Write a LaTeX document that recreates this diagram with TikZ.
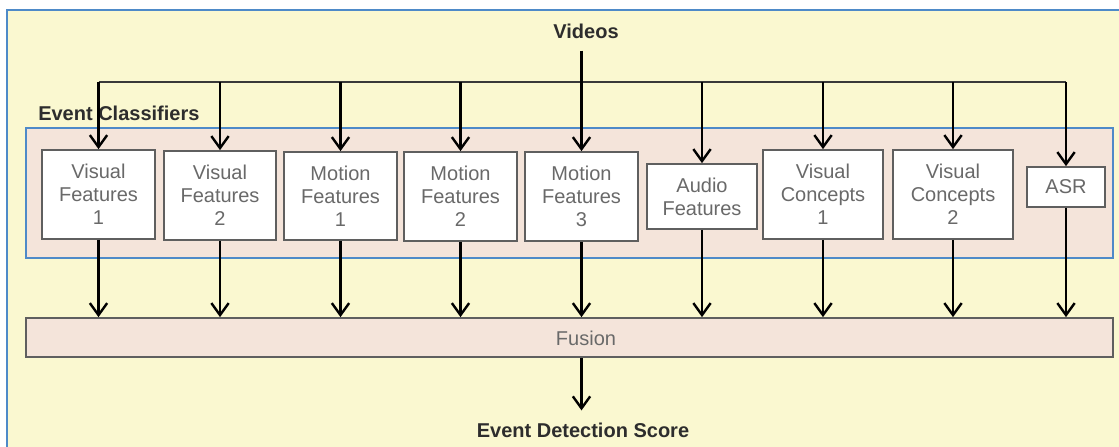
\documentclass[tikz,border=0pt]{standalone}
\usepackage{fontspec}
\setmainfont{Liberation Sans}
\usetikzlibrary{arrows.meta,shadows}

\definecolor{bgyellow}{RGB}{250,248,208}
\definecolor{bgpink}{RGB}{244,228,218}
\definecolor{frameblue}{RGB}{78,138,200}
\definecolor{boxgray}{RGB}{95,95,95}
\definecolor{txtgray}{RGB}{105,105,105}
\definecolor{lblgray}{RGB}{45,45,45}

\begin{document}
\begin{tikzpicture}[x=0.75pt,y=-0.75pt]
	\tikzstyle{plain} = [text=txtgray, align=center, font=\fontsize{15}{17.3}\selectfont, inner sep=0]
	\tikzstyle{feat} = [plain, draw=boxgray, fill=white, line width=1.3pt,
		drop shadow={opacity=0.25, shadow xshift=1pt, shadow yshift=-1pt}]
	\tikzstyle{lbl} = [text=lblgray, font=\fontsize{15}{17}\selectfont\bfseries, inner sep=0]
	\tikzstyle{arr} = [line width=1.8pt, -{Straight Barb[length=9pt, width=13pt, line width=1.8pt]}]

	\useasboundingbox (0,0) rectangle (1119,446);
	\clip (0,0) rectangle (1119,446);

	% frames
	\draw[frameblue, fill=bgyellow, line width=1.5pt] (7,10) rectangle (1140,470);
	\draw[frameblue, fill=bgpink, line width=1.5pt] (26,128) rectangle (1113,258);
	\node[lbl, anchor=west] (cls) at (38,113) {Event Classifiers};

	% feature boxes
	\foreach \i/\x/\y/\w/\h/\txt in {
		1/98.5/194.5/113/89/{Visual\\Features\\1},
		2/220/195.5/112/89/{Visual\\Features\\2},
		3/340.5/196/113/88/{Motion\\Features\\1},
		4/460.5/196.5/113/89/{Motion\\Features\\2},
		5/581.5/196.5/113/89/{Motion\\Features\\3},
		6/702/196.5/110/65/{Audio\\Features},
		7/823/194.5/120/89/{Visual\\Concepts\\1},
		8/953/194.5/120/89/{Visual\\Concepts\\2},
		9/1066/187/78/40/{ASR}} {
		\node[feat, minimum width=\w*0.75pt, minimum height=\h*0.75pt] (a\i) at (\x,\y) {\txt};
	}

	\node[feat, fill=bgpink, minimum width=1087*0.75pt, minimum height=39*0.75pt] (fusion) at (569.5,337.5) {};
	\node[plain] (fusionlbl) at (586,338) {Fusion};

	\node[lbl] (videos) at (586,31) {Videos};
	\node[lbl] (score) at (583,430) {Event Detection Score};
	\coordinate (bus) at (0,82);

	% connectors
	\draw[boxgray!60!black, line width=1.3pt] (a1.north |- bus) -- (a9.north |- bus);
	\foreach \i in {1,2,3,4,6,7,8,9} {
		\draw[arr] (a\i.north |- bus) -- (a\i.north);
		\draw[arr] (a\i.south) -- (a\i.south |- fusion.north);
	}
	\draw[arr] (videos.south) ++(0,-9pt) coordinate (vtop) (vtop -| a5.north) -- (a5.north);
	\draw[arr] (a5.south) -- (a5.south |- fusion.north);
	\draw[arr, shorten >=9pt] (fusion.south -| a5.south) -- (a5.south |- score.north);

\end{tikzpicture}
\end{document}
